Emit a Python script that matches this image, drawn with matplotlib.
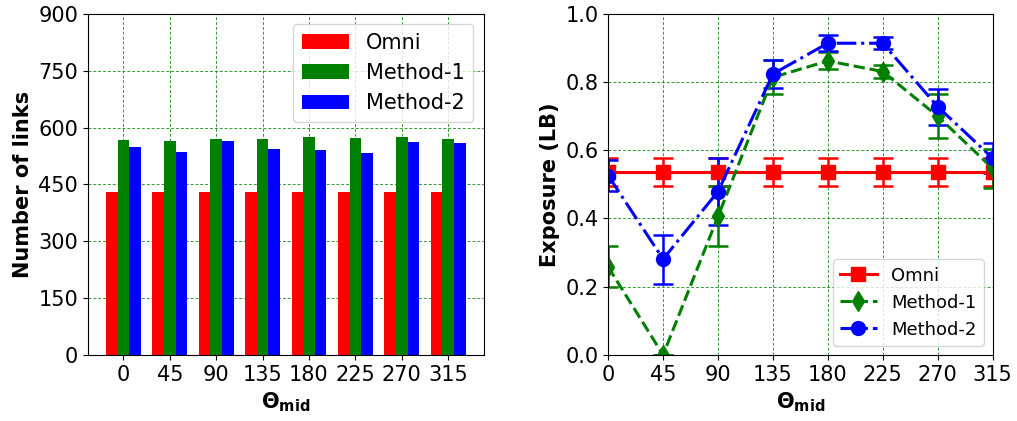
import numpy as np
import matplotlib.pyplot as plt

# data
angles = [0, 45, 90, 135, 180, 225, 270, 315]
links_omni = [429, 429, 429, 429, 429, 429, 429, 429]
links_m1 = [568, 565, 570, 571, 575, 573, 575, 571]
links_m2 = [549, 535, 565, 543, 540, 532, 563, 559]

exp_omni = [0.537, 0.537, 0.537, 0.537, 0.537, 0.537, 0.537, 0.537]
err_omni = [0.041, 0.041, 0.041, 0.041, 0.041, 0.041, 0.041, 0.041]
exp_m1 = [0.258, 0.0, 0.406, 0.814, 0.862, 0.831, 0.700, 0.547]
err_m1 = [0.060, 0.0, 0.088, 0.050, 0.025, 0.020, 0.064, 0.058]
exp_m2 = [0.526, 0.281, 0.479, 0.824, 0.914, 0.914, 0.728, 0.577]
err_m2 = [0.046, 0.072, 0.098, 0.040, 0.023, 0.017, 0.053, 0.044]

plt.rcParams['font.size'] = 15

fig = plt.figure(figsize=(10.17, 4.21), dpi=100)
ax1 = fig.add_axes([0.0865, 0.157, 0.389, 0.81])
ax2 = fig.add_axes([0.598, 0.157, 0.378, 0.81])

grid_kw = dict(color='green', linestyle=(0, (3, 2)), linewidth=0.7, alpha=0.8)

# left: bar chart of link counts
x = np.arange(len(angles))
w = 0.25
ax1.bar(x - w, links_omni, w, color='red', label='Omni', zorder=3)
ax1.bar(x, links_m1, w, color='green', label='Method-1', zorder=3)
ax1.bar(x + w, links_m2, w, color='blue', label='Method-2', zorder=3)
ax1.set_xticks(x)
ax1.set_xticklabels([str(a) for a in angles])
ax1.set_ylim(0, 900)
ax1.set_yticks(np.arange(0, 901, 150))
ax1.set_ylabel('Number of links', fontweight='bold', fontsize=15)
ax1.set_xlabel(r'$\mathbf{\Theta_{mid}}$', fontsize=15)
ax1.grid(True, zorder=0, **grid_kw)
ax1.legend(loc='upper right', fontsize=15, handlelength=2.3)

# right: exposure with error bars
styles = [
    (exp_omni, err_omni, 'red', 's', '-', 'Omni'),
    (exp_m1, err_m1, 'green', 'd', '--', 'Method-1'),
    (exp_m2, err_m2, 'blue', 'o', '-.', 'Method-2'),
]
handles = []
for vals, errs, col, mk, ls, lab in styles:
    cont = ax2.errorbar(angles, vals, yerr=errs, color=col, marker=mk,
                        markersize=10, linewidth=2.2, linestyle=ls, capsize=7,
                        elinewidth=1.8, capthick=1.8, label=lab)
    handles.append(cont[0])
ax2.set_xlim(0, 315)
ax2.set_xticks(angles)
ax2.set_ylim(0, 1.0)
ax2.set_yticks(np.arange(0, 1.01, 0.2))
ax2.set_ylabel('Exposure (LB)', fontweight='bold', fontsize=15)
ax2.set_xlabel(r'$\mathbf{\Theta_{mid}}$', fontsize=15)
ax2.grid(True, **grid_kw)
ax2.legend(handles, [s[-1] for s in styles], loc='lower right', fontsize=13)

fig.savefig('out.png', dpi=100)
